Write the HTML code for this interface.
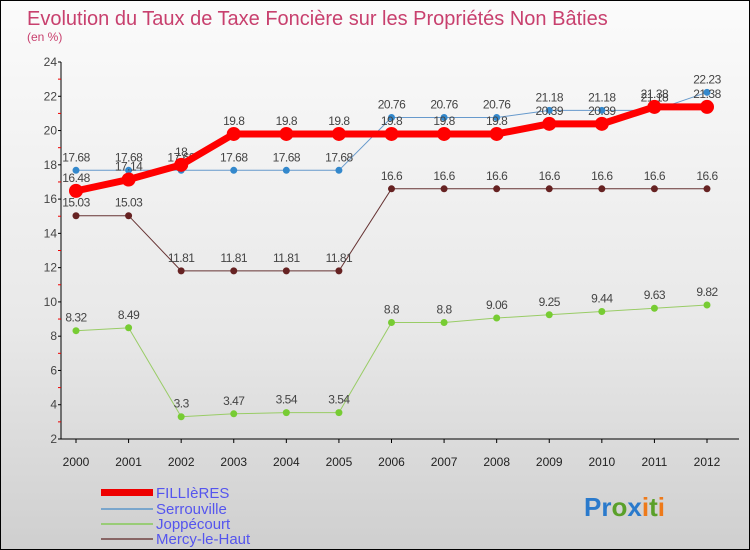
<!DOCTYPE html>
<html><head><meta charset="utf-8"><style>
body{margin:0}
#wrap{width:748px;height:548px;border:1px solid #000;background:linear-gradient(#fbfbfb,#e8e8e8 60%,#cfcfcf);position:relative;overflow:hidden;font-family:"Liberation Sans",sans-serif}
</style></head><body>
<div id="wrap">
<svg id="svg" width="748" height="548" xmlns="http://www.w3.org/2000/svg" font-family="Liberation Sans, sans-serif">
<text x="26" y="24" font-size="20" fill="#c8406e">Evolution du Taux de Taxe Foncière sur les Propriétés Non Bâties</text>
<text x="26" y="40" font-size="12" fill="#c8406e">(en %)</text>
<g id="axes"></g><g id="series"></g>
<g font-size="15" fill="#5555ee">
<rect x="100" y="488" width="52" height="7" fill="#e00"/>
<text x="155" y="497">FILLIèRES</text>
<rect x="100" y="507" width="52" height="2" fill="#7aa6cc"/>
<text x="155" y="513">Serrouville</text>
<rect x="100" y="522" width="52" height="2" fill="#99cc77"/>
<text x="155" y="528">Joppécourt</text>
<rect x="100" y="537" width="52" height="2" fill="#886666"/>
<text x="155" y="543">Mercy-le-Haut</text>
</g>
<text x="583" y="515" font-size="26" font-weight="bold"><tspan fill="#2a7acc">Pr</tspan><tspan fill="#5aa02a">o</tspan><tspan fill="#2a7acc">x</tspan><tspan fill="#ee7a1a">i</tspan><tspan fill="#5aa02a">t</tspan><tspan fill="#ee7a1a">i</tspan></text>
</svg></div>
<script>
const years=["2000","2001","2002","2003","2004","2005","2006","2007","2008","2009","2010","2011","2012"];
const yTicks=[2,4,6,8,10,12,14,16,18,20,22,24];
const fillieres=[16.48,17.14,18,19.8,19.8,19.8,19.8,19.8,19.8,20.39,20.39,21.38,21.38];
const serrouville=[17.68,17.68,17.68,17.68,17.68,17.68,20.76,20.76,20.76,21.18,21.18,21.18,22.23];
const joppecourt=[8.32,8.49,3.3,3.47,3.54,3.54,8.8,8.8,9.06,9.25,9.44,9.63,9.82];
const mercy=[15.03,15.03,11.81,11.81,11.81,11.81,16.6,16.6,16.6,16.6,16.6,16.6,16.6];
const NS="http://www.w3.org/2000/svg";
const X=i=>75+i*(706-75)/12;
const Y=v=>438-(v-2)*(438-61)/22;
function mk(t,a,p){const e=document.createElementNS(NS,t);for(const k in a)e.setAttribute(k,a[k]);p.appendChild(e);return e;}
const ax=document.getElementById('axes');
const yl=mk('line',{x1:60,y1:61,x2:60,y2:438,stroke:'#000'},ax);


const xl=mk('line',{x1:60,y1:438,x2:738,y2:438,stroke:'#000'},ax);


yTicks.forEach(v=>{
 mk('line',{x1:57,y1:Y(v),x2:60,y2:Y(v),stroke:'#000'},ax);
 if(v<24)mk('line',{x1:57,y1:Y(v+1),x2:60,y2:Y(v+1),stroke:'#e00'},ax);
 const t=mk('text',{x:56,y:Y(v)+4,'font-size':12,'text-anchor':'end',fill:'#444'},ax);
 t.textContent=v;
 
 
});
years.forEach((y,i)=>{
 mk('line',{x1:X(i),y1:438,x2:X(i),y2:442,stroke:'#000'},ax);
 const t=mk('text',{x:X(i),y:465,'font-size':12,'text-anchor':'middle',fill:'#222'},ax);
 t.textContent=y;
 
 
});
const sg=document.getElementById('series');
function series(data,name,color,w,r,ptColor){
 const g=mk('g',{},sg);
 
 
 const pl=mk('polyline',{points:data.map((v,i)=>X(i)+','+Y(v)).join(' '),fill:'none',stroke:color,'stroke-width':w,'stroke-linejoin':'round'},g);
 
 
 data.forEach((v,i)=>{
  const c=mk('circle',{cx:X(i),cy:Y(v),r:r,fill:ptColor},g);
  
  
  const t=mk('text',{x:X(i),y:Y(v)-9,'font-size':12,'text-anchor':'middle',fill:'#444','letter-spacing':'-0.5'},g);
  t.textContent=v;
  
  
 });
}
series(mercy,'mercy-le-haut','#663333',1,3.5,'#662222');
series(joppecourt,'joppecourt','#99cc66',1,3.5,'#77cc33');
series(serrouville,'serrouville','#6699cc',1,3.5,'#3388cc');
series(fillieres,'fillieres','#ff0000',7,7,'#ff0000');
</script>
</body></html>
